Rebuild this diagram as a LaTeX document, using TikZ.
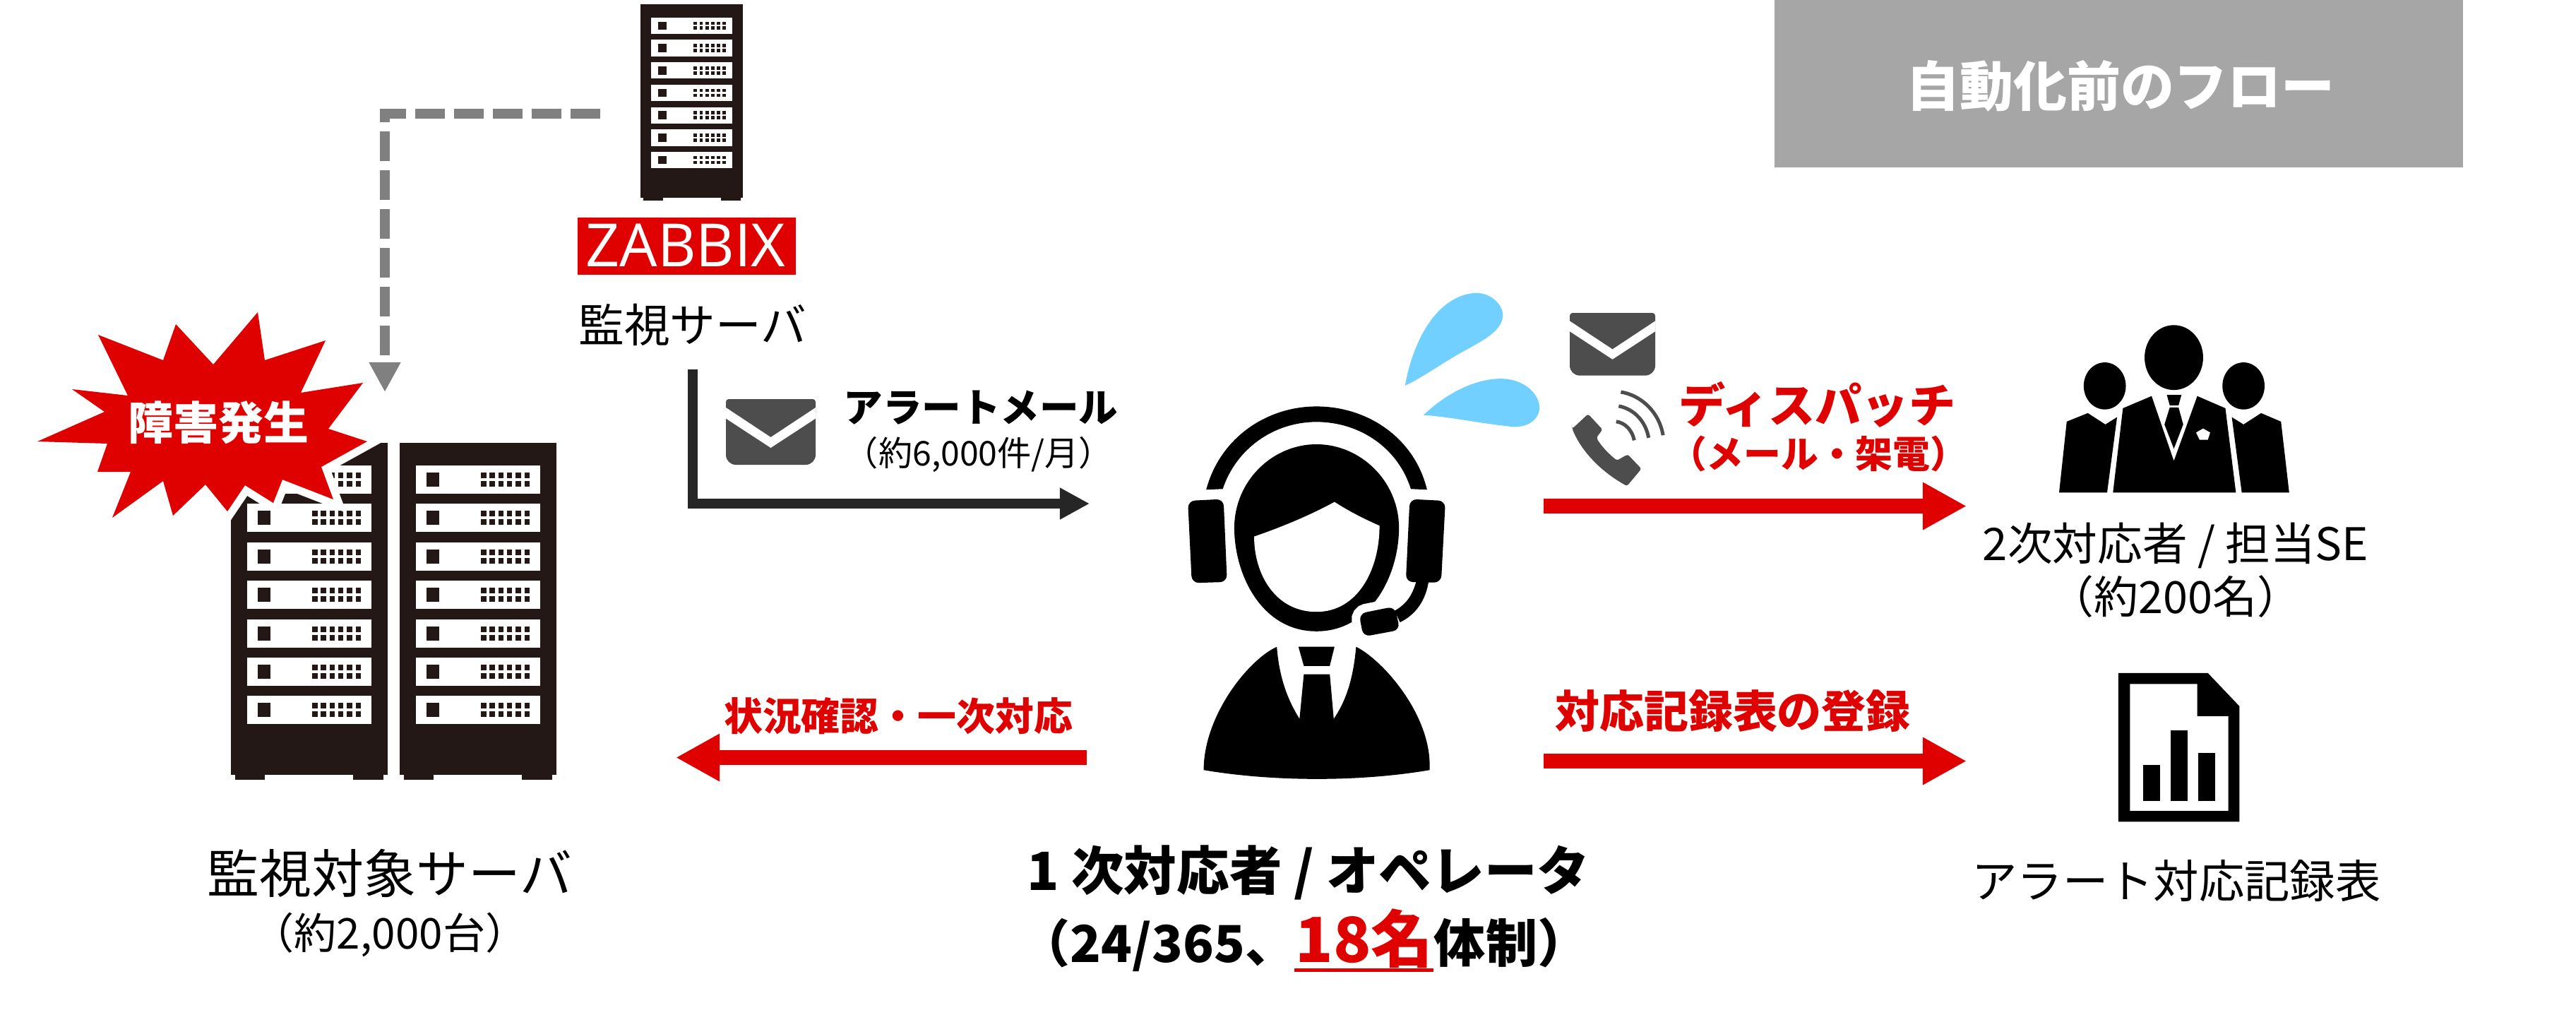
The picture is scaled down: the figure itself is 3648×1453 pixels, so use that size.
\documentclass[tikz,border=0pt]{standalone}
\usepackage{fontspec}
\setmainfont{Noto Sans CJK JP}
\newfontfamily\logofont{Open Sans}
\usetikzlibrary{arrows.meta,positioning}

\definecolor{alarmred}{HTML}{DF0000}
\definecolor{rackdark}{HTML}{231815}
\definecolor{icongray}{HTML}{4D4D4D}
\definecolor{elbowdark}{HTML}{262626}
\definecolor{dropblue}{HTML}{71D0FF}
\definecolor{titlegray}{HTML}{A6A6A6}

\newcommand{\fsz}[1]{\fontsize{#1}{#1}\selectfont}

\tikzset{
    lbl/.style={inner sep=0pt, anchor=base},
    redlbl/.style={lbl, text=alarmred, font=\bfseries\fsz{#1}},
    redarrow/.style={draw=alarmred, line width=.21cm, -{Triangle[length=.62cm,width=.63cm]}},
    alertarrow/.style={draw=elbowdark, line width=.14cm, -{Triangle[length=.42cm,width=.42cm]}},
    pollarrow/.style={draw=gray, line width=.14cm, dash pattern=on .42cm off .13cm, -{Triangle[length=.42cm,width=.42cm]}},
    serverrack/.pic={
        \fill[rackdark] (0,0) rectangle (221.5,470);
        \fill[rackdark] (6,470) rectangle (48,476.6);
        \fill[rackdark] (173,470) rectangle (216,476.6);
        \foreach \i in {0,...,6} {
            \fill[white] (23,32+54.4*\i) rectangle (198.5,72+54.4*\i);
            \fill[rackdark] (38,42+54.4*\i) rectangle (56,62+54.4*\i);
            \foreach \j in {0,...,5} {
                \fill[rackdark] (115+12.3*\j,42+54.4*\i) rectangle (122.5+12.3*\j,50+54.4*\i);
                \fill[rackdark] (115+12.3*\j,54+54.4*\i) rectangle (122.5+12.3*\j,62+54.4*\i);
            }
        }
    },
    mailicon/.pic={
        \fill[icongray, rounded corners=.04cm] (0,50) -- (0,0) -- (127,0) -- (127,50)
            [rounded corners=.14cm] -- (127,93) -- (0,93) -- cycle;
        \fill[white] (0,12) -- (63.5,54) -- (127,12) -- (127,27.5) -- (63.5,69) -- (0,27.5) -- cycle;
    }
}

\begin{document}
\begin{tikzpicture}[x=.01cm, y=-.01cm]
    \path[use as bounding box, fill=white] (0,0) rectangle (3648,1453);

    % connector ends
    \coordinate (pollstart) at (850,161);
    \coordinate (pollend) at (545,555);
    \coordinate (alertstart) at (981,523);
    \coordinate (alertend) at (1543,713);
    \coordinate (dispstart) at (2186,716.5);
    \coordinate (dispend) at (2785,716.5);
    \coordinate (recstart) at (2186,1077.5);
    \coordinate (recend) at (2785,1077.5);
    \coordinate (chkstart) at (1539,1072.5);
    \coordinate (chkend) at (957,1072.5);

    % title
    \fill[titlegray] (2513,0) rectangle (3488,237);
    \node[lbl, text=white, font=\bfseries\fsz{21.6}] (title) at (3003,150) {自動化前のフロー};

    % target servers and the burst
    \pic at (327,627) {serverrack};
    \pic at (566,627) {serverrack};
    \path[preaction={draw=white, line width=.22cm}, fill=alarmred]
        (365,442) -- (375,510) -- (461,482) -- (426,556) -- (514,542) -- (465,607)
        -- (520,625) -- (455,661) -- (472,707) -- (400,679) -- (387,712) -- (347,687)
        -- (322,724) -- (291,686) -- (245,730) -- (231,681) -- (159,733) -- (185,668)
        -- (138,668) -- (152,628) -- (53,625) -- (148,583) -- (102,551) -- (181,560)
        -- (139,474) -- (231,510) -- (249,459) -- (302,516) -- cycle;
    \node[lbl, text=white, font=\bfseries\fsz{18.2}] (burstlbl) at (309.5,622) {障害発生};
    \node[lbl, font=\fsz{21}] (targetlbl) at (552,1264) {監視対象サーバ};
    \node[lbl, font=\fsz{17.1}] (targetcnt) at (552,1343) {（約2,000台）};

    % monitoring server
    \pic[xscale=.656, yscale=.583] at (907,6) {serverrack};
    \fill[alarmred] (818,308) rectangle (1127,389);
    \node[lbl, text=white, font=\logofont\fsz{24}] (zbx) at (971,377) {ZABBIX};
    \node[lbl, font=\fsz{18.4}] (monlbl) at (981,484) {監視サーバ};
    \draw[pollarrow] (pollstart) -| (pollend);

    % alert mail
    \draw[alertarrow] (alertstart) |- (alertend);
    \pic at (1028,565) {mailicon};
    \node[lbl, font=\bfseries\fsz{15.8}] (alertlbl) at (1389,597) {アラートメール};
    \node[lbl, font=\fsz{13.7}] (alertcnt) at (1386,659) {（約6,000件/月）};

    % operator
    \begin{scope}[shift={(1600,380)}, scale=.5102]
        \fill[black] (212,614) .. controls (250,470) and (380,383) .. (518,383)
            .. controls (660,383) and (790,470) .. (825,614) -- (780,612)
            .. controls (745,500) and (640,426) .. (518,426)
            .. controls (400,426) and (295,500) .. (258,612) -- cycle;
        \fill[black] (518,488) .. controls (640,488) and (747,590) .. (747,720)
            .. controls (747,850) and (670,1007) .. (518,1007)
            .. controls (366,1007) and (290,850) .. (290,720)
            .. controls (290,590) and (396,488) .. (518,488) -- cycle;
        \fill[white] (345,744) .. controls (430,715) and (510,680) .. (568,648)
            .. controls (610,675) and (650,695) .. (693,714)
            .. controls (693,840) and (630,953) .. (518,953)
            .. controls (405,953) and (345,850) .. (345,744) -- cycle;
        \fill[black, rounded corners=.1cm] (161,645) -- (260,640) -- (270,870) -- (172,873) -- cycle;
        \fill[black, rounded corners=.1cm] (777,640) -- (876,645) -- (864,872) -- (766,870) -- cycle;
        \draw[white, line width=.24cm, rounded corners=.1cm, fill=white] (636,958) -- (735,938) -- (750,1003) -- (648,1022) -- cycle;
        \fill[black] (796,865) .. controls (785,905) and (770,930) .. (735,950) -- (750,982)
            .. controls (795,960) and (822,920) .. (830,865) -- cycle;
        \fill[black, rounded corners=.1cm] (636,958) -- (735,938) -- (750,1003) -- (648,1022) -- cycle;
        \fill[black] (408,1050) .. controls (330,1085) and (205,1240) .. (205,1392)
            .. controls (400,1425) and (640,1425) .. (832,1392)
            .. controls (840,1240) and (700,1085) .. (628,1050)
            .. controls (620,1140) and (600,1200) .. (566,1250) -- (555,1126) -- (483,1126) -- (471,1250)
            .. controls (440,1200) and (415,1140) .. (408,1050) -- cycle;
        \fill[black] (468,1050) -- (568,1050) -- (555,1103) -- (483,1103) -- cycle;
        % sweat drops
        \fill[dropblue] (764,325) .. controls (785,205) and (850,75) .. (960,68)
            .. controls (1010,68) and (1040,110) .. (1035,135)
            .. controls (1030,175) and (980,200) .. (930,228)
            .. controls (870,260) and (810,305) .. (764,325) -- cycle;
        \fill[dropblue] (815,407) .. controls (880,345) and (960,306) .. (1030,306)
            .. controls (1095,306) and (1140,350) .. (1137,392)
            .. controls (1130,430) and (1090,445) .. (1050,438)
            .. controls (960,428) and (890,412) .. (815,407) -- cycle;
        % phone
        \fill[icongray, rounded corners=.03cm] (1228,445) -- (1272,404) -- (1312,447) -- (1295,470)
            .. controls (1310,495) and (1330,515) .. (1352,533) -- (1382,516) -- (1420,556) -- (1380,604)
            .. controls (1310,565) and (1255,510) .. (1228,445) -- cycle;
        \draw[icongray, line width=.05cm] (1350,425) .. controls (1375,428) and (1395,450) .. (1400,477);
        \draw[icongray, line width=.05cm] (1357,382) .. controls (1400,390) and (1432,425) .. (1440,470);
        \draw[icongray, line width=.05cm] (1363,343) .. controls (1420,352) and (1470,400) .. (1480,463);
    \end{scope}
    \pic[scale=.953] at (2223,443) {mailicon};
    \node[lbl, font=\bfseries\fsz{21.2}] (oplbl) at (1853,1260) {1 次対応者 / オペレータ};
    \node[redlbl=25] (countlbl) at (1932,1362) {18名};
    \node[lbl, anchor=base east, font=\bfseries\fsz{20.5}, xshift=.02cm] (shiftlbl) at (countlbl.base west) {（24/365、};
    \node[lbl, anchor=base west, font=\bfseries\fsz{20.8}] (shiftend) at (countlbl.base east) {体制）};
    \fill[alarmred] (1833,1371) rectangle (2030,1376);

    % arrows on the right and the lower left
    \draw[redarrow] (dispstart) -- (dispend);
    \draw[redarrow] (recstart) -- (recend);
    \draw[redarrow] (chkstart) -- (chkend);
    \node[redlbl=18.8] (displbl) at (2573,598) {ディスパッチ};
    \node[redlbl=15] (dispsub) at (2575,662) {（メール・架電）};
    \node[redlbl=17.9] (reclbl) at (2454,1030) {対応記録表の登録};
    \node[redlbl=15.6] (chklbl) at (1272,1034) {状況確認・一次対応};

    % second line staff and record sheet
    \begin{scope}[shift={(2150,400)}, xscale=.829, yscale=.574]
        \fill[black] (1120,185) ellipse [x radius=50, y radius=80];
        \fill[black] (1002,255) ellipse [x radius=36, y radius=58];
        \fill[black] (1239,255) ellipse [x radius=36, y radius=58];
        \fill[black] (1016,518) -- (1033,310) -- (1082,280) -- (1120,440) -- (1160,280)
            -- (1208,310) -- (1226,518) -- cycle;
        \fill[black] (1108,277) -- (1133,277) -- (1128,303) -- (1113,303) -- cycle;
        \fill[black] (1113,308) -- (1128,308) -- (1136,350) -- (1120,410) -- (1104,350) -- cycle;
        \fill[white] (1158,370) -- (1170,360) -- (1182,370) -- (1178,388) -- (1164,388) -- cycle;
        \fill[black] (924,518) -- (937,343) -- (973,322) -- (1003,350) -- (1023,332) -- (1006,518) -- cycle;
        \fill[black] (1317,518) -- (1303,343) -- (1269,322) -- (1239,350) -- (1219,332) -- (1236,518) -- cycle;
        % sheet
        \fill[black] (1025,963) -- (1178,963) -- (1232,1045) -- (1232,1330) -- (1025,1330) -- cycle;
        \fill[white] (1045,990) -- (1160,990) -- (1160,1070) -- (1213,1070) -- (1213,1303) -- (1045,1303) -- cycle;
        \fill[black] (1067,1190) rectangle (1096,1278);
        \fill[black] (1114,1104) rectangle (1143,1278);
        \fill[black] (1162,1161) rectangle (1191,1278);
    \end{scope}
    \node[lbl, font=\fsz{18.1}] (selbl) at (3081,793) {2次対応者 / 担当SE};
    \node[lbl, font=\fsz{17.9}] (secnt) at (3081,868) {（約200名）};
    \node[lbl, font=\fsz{18.3}] (sheetlbl) at (3082,1271) {アラート対応記録表};
\end{tikzpicture}
\end{document}
